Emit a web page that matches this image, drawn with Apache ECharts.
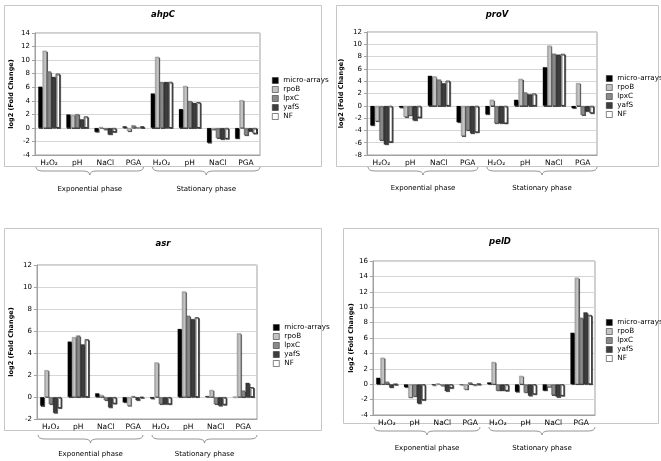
<!DOCTYPE html>
<html>
<head>
<meta charset="utf-8">
<script src="https://cdn.jsdelivr.net/npm/echarts@6/dist/echarts.min.js"></script>
<style>
html,body{margin:0;padding:0;background:#fff;}
#c{width:661px;height:461px;}
</style>
</head>
<body>
<div id="c"></div>
<script>
// ---------- DATA ----------
const categories = ['H₂O₂', 'pH', 'NaCl', 'PGA', 'H₂O₂', 'pH', 'NaCl', 'PGA'];
const seriesNames = ['micro-arrays', 'rpoB', 'lpxC', 'yafS', 'NF'];
const phaseLabels = ['Exponential phase', 'Stationary phase'];
const geneNames = ['ahpC', 'proV', 'asr', 'pelD'];
const yAxisName = 'log2 (Fold Change)';

const ahpC_microArrays = [6.1, 2.0, -0.6, 0.25, 5.1, 2.8, -2.2, -1.6];
const ahpC_rpoB        = [11.4, 1.9, 0.15, -0.5, 10.5, 6.2, -0.25, 4.1];
const ahpC_lpxC        = [8.35, 2.05, -0.25, 0.4, 6.8, 4.0, -1.5, -1.1];
const ahpC_yafS        = [7.55, 1.3, -1.0, 0.1, 6.8, 3.7, -1.7, -0.5];
const ahpC_NF          = [8.0, 1.7, -0.6, 0.25, 6.8, 3.8, -1.6, -0.85];
const ahpC_yTicks      = [-4, 14, 2];

const proV_microArrays = [-3.2, -0.3, 4.9, -2.7, -1.4, 1.0, 6.3, -0.4];
const proV_rpoB        = [-2.5, -1.8, 4.8, -4.9, 1.0, 4.4, 9.8, 3.7];
const proV_lpxC        = [-5.6, -1.6, 4.3, -4.0, -2.85, 2.2, 8.5, -1.5];
const proV_yafS        = [-6.3, -2.4, 3.7, -4.5, -2.85, 1.9, 8.35, -0.9];
const proV_NF          = [-5.9, -1.9, 4.1, -4.3, -2.85, 2.0, 8.45, -1.2];
const proV_yTicks      = [-8, 12, 2];

const asr_microArrays  = [-0.8, 5.05, 0.35, -0.5, -0.15, 6.2, 0.1, 0.03];
const asr_rpoB         = [2.45, 5.45, 0.2, -0.8, 3.15, 9.6, 0.65, 5.8];
const asr_lpxC         = [-0.65, 5.6, -0.3, 0.1, -0.65, 7.4, -0.65, 0.6];
const asr_yafS         = [-1.45, 4.8, -0.95, -0.3, -0.65, 7.1, -0.8, 1.3];
const asr_NF           = [-1.0, 5.25, -0.6, -0.05, -0.65, 7.25, -0.7, 0.9];
const asr_yTicks       = [-2, 12, 2];

const pelD_microArrays = [0.85, -0.4, -0.15, -0.1, 0.25, -1.0, -0.85, 6.7];
const pelD_rpoB        = [3.45, -1.75, 0.1, -0.7, 2.9, 1.1, -0.35, 13.85];
const pelD_lpxC        = [0.35, -1.6, -0.2, 0.25, -0.85, -1.1, -1.4, 8.65];
const pelD_yafS        = [-0.45, -2.5, -0.9, -0.15, -0.85, -1.5, -1.65, 9.35];
const pelD_NF          = [0.0, -2.05, -0.5, 0.05, -0.85, -1.3, -1.5, 9.0];
const pelD_yTicks      = [-4, 16, 2];

const panelData = [
  [ahpC_microArrays, ahpC_rpoB, ahpC_lpxC, ahpC_yafS, ahpC_NF],
  [proV_microArrays, proV_rpoB, proV_lpxC, proV_yafS, proV_NF],
  [asr_microArrays, asr_rpoB, asr_lpxC, asr_yafS, asr_NF],
  [pelD_microArrays, pelD_rpoB, pelD_lpxC, pelD_yafS, pelD_NF]
];
const panelTicks = [ahpC_yTicks, proV_yTicks, asr_yTicks, pelD_yTicks];

// ---------- LAYOUT / STYLE ----------
const FONT = 'DejaVu Sans';
const seriesColors = ['#000000', '#c4c4c4', '#8a8a8a', '#3e3e3e', '#ffffff'];
const layouts = [
  {box: [4, 5, 317, 161],   grid: {left: 35, top: 33, width: 225, height: 122},  title: [163, 15],  legend: [267, 72],  nameGap: 20, braceY: 167, phaseY: 189},
  {box: [336, 5, 322, 161], grid: {left: 367, top: 32, width: 230, height: 123}, title: [497, 15],  legend: [601, 70],  nameGap: 22, braceY: 167, phaseY: 188},
  {box: [4, 228, 317, 202], grid: {left: 37, top: 265, width: 220, height: 154}, title: [163, 244], legend: [268, 319], nameGap: 22, braceY: 435, phaseY: 454},
  {box: [343, 228, 315, 195], grid: {left: 373, top: 261, width: 222, height: 154}, title: [500, 242], legend: [601, 314], nameGap: 18, braceY: 427, phaseY: 448}
];

const braceStyle = {fill: null, stroke: '#7a7a7a', lineWidth: 0.8};
function braceElements(x1, x2, y, h) {
  const mid = (x1 + x2) / 2, r = 7, m = y + h / 2;
  return [
    {type: 'bezierCurve', shape: {x1: x1, y1: y, x2: x1 + r, y2: m, cpx1: x1, cpy1: m}, style: braceStyle},
    {type: 'line', shape: {x1: x1 + r, y1: m, x2: mid - r, y2: m}, style: braceStyle},
    {type: 'bezierCurve', shape: {x1: mid - r, y1: m, x2: mid, y2: y + h, cpx1: mid, cpy1: m}, style: braceStyle},
    {type: 'bezierCurve', shape: {x1: mid, y1: y + h, x2: mid + r, y2: m, cpx1: mid, cpy1: m}, style: braceStyle},
    {type: 'line', shape: {x1: mid + r, y1: m, x2: x2 - r, y2: m}, style: braceStyle},
    {type: 'bezierCurve', shape: {x1: x2 - r, y1: m, x2: x2, y2: y, cpx1: x2, cpy1: m}, style: braceStyle}
  ];
}

const grids = [], xAxes = [], yAxes = [], series = [], legends = [], graphics = [];

layouts.forEach((L, p) => {
  grids.push(Object.assign({show: true, borderColor: '#a0a0a0', borderWidth: 1, backgroundColor: '#fff'}, L.grid));
  xAxes.push({
    type: 'category', gridIndex: p, data: categories,
    axisLine: {show: true, onZero: false, lineStyle: {color: '#a0a0a0'}},
    axisTick: {show: false},
    axisLabel: {interval: 0, fontFamily: FONT, fontSize: 7.5, color: '#000', margin: 4},
    splitLine: {show: false}
  });
  const t = panelTicks[p];
  yAxes.push({
    type: 'value', gridIndex: p, min: t[0], max: t[1], interval: t[2],
    name: yAxisName, nameLocation: 'middle', nameGap: L.nameGap,
    nameTextStyle: {fontFamily: FONT, fontSize: 6.5, fontWeight: 'bold', color: '#000'},
    axisLine: {show: true, lineStyle: {color: '#a0a0a0'}},
    axisTick: {show: true, length: 3, lineStyle: {color: '#a0a0a0'}},
    axisLabel: {fontFamily: FONT, fontSize: 7, color: '#000', margin: 5},
    splitLine: {show: true, lineStyle: {color: '#d6d6d6', width: 1}}
  });
  seriesNames.forEach((name, s) => {
    series.push({
      type: 'bar', name: name, xAxisIndex: p, yAxisIndex: p,
      data: panelData[p][s],
      barGap: '0%', barCategoryGap: '22%',
      animation: false,
      itemStyle: {
        color: seriesColors[s],
        borderColor: s === 4 ? '#222' : 'rgba(0,0,0,0.4)',
        borderWidth: s === 4 ? 0.8 : 0.5,
        shadowColor: 'rgba(0,0,0,0.6)', shadowOffsetX: 1, shadowOffsetY: 1, shadowBlur: 0.5
      }
    });
  });
  legends.push({
    orient: 'vertical', left: L.legend[0], top: L.legend[1],
    data: seriesNames, itemWidth: 6, itemHeight: 6, itemGap: 2,
    icon: 'rect', selectedMode: false,
    textStyle: {fontFamily: FONT, fontSize: 7.2, color: '#000'},
    itemStyle: {borderColor: '#333', borderWidth: 0.6, shadowBlur: 0, shadowOffsetX: 0, shadowOffsetY: 0}
  });
  graphics.push({type: 'rect', z: -1, shape: {x: L.box[0] + 0.5, y: L.box[1] + 0.5, width: L.box[2], height: L.box[3]},
    style: {fill: '#fff', stroke: '#c6c6c6', lineWidth: 1}});
  graphics.push({type: 'text', x: L.title[0], y: L.title[1],
    style: {text: geneNames[p], fontFamily: FONT, fontSize: 8.5, fontWeight: 'bold', fontStyle: 'italic', fill: '#000',
      textAlign: 'center', textVerticalAlign: 'middle'}});
  const cw = L.grid.width / categories.length;
  [[0, 4], [4, 8]].forEach((rng, k) => {
    const x1 = L.grid.left + rng[0] * cw + (k === 0 ? 1 : 5);
    const x2 = L.grid.left + rng[1] * cw - (k === 0 ? 4 : 0);
    braceElements(x1, x2, L.braceY, 8).forEach(el => graphics.push(el));
    graphics.push({type: 'text', x: (x1 + x2) / 2, y: L.phaseY,
      style: {text: phaseLabels[k], fontFamily: FONT, fontSize: 7, fill: '#000', textAlign: 'center', textVerticalAlign: 'middle'}});
  });
});

const chart = echarts.init(document.getElementById('c'), null, {renderer: 'canvas'});
chart.setOption({
  backgroundColor: '#fff',
  animation: false,
  textStyle: {fontFamily: FONT},
  grid: grids, xAxis: xAxes, yAxis: yAxes, series: series, legend: legends,
  graphic: graphics
});
</script>
</body>
</html>
